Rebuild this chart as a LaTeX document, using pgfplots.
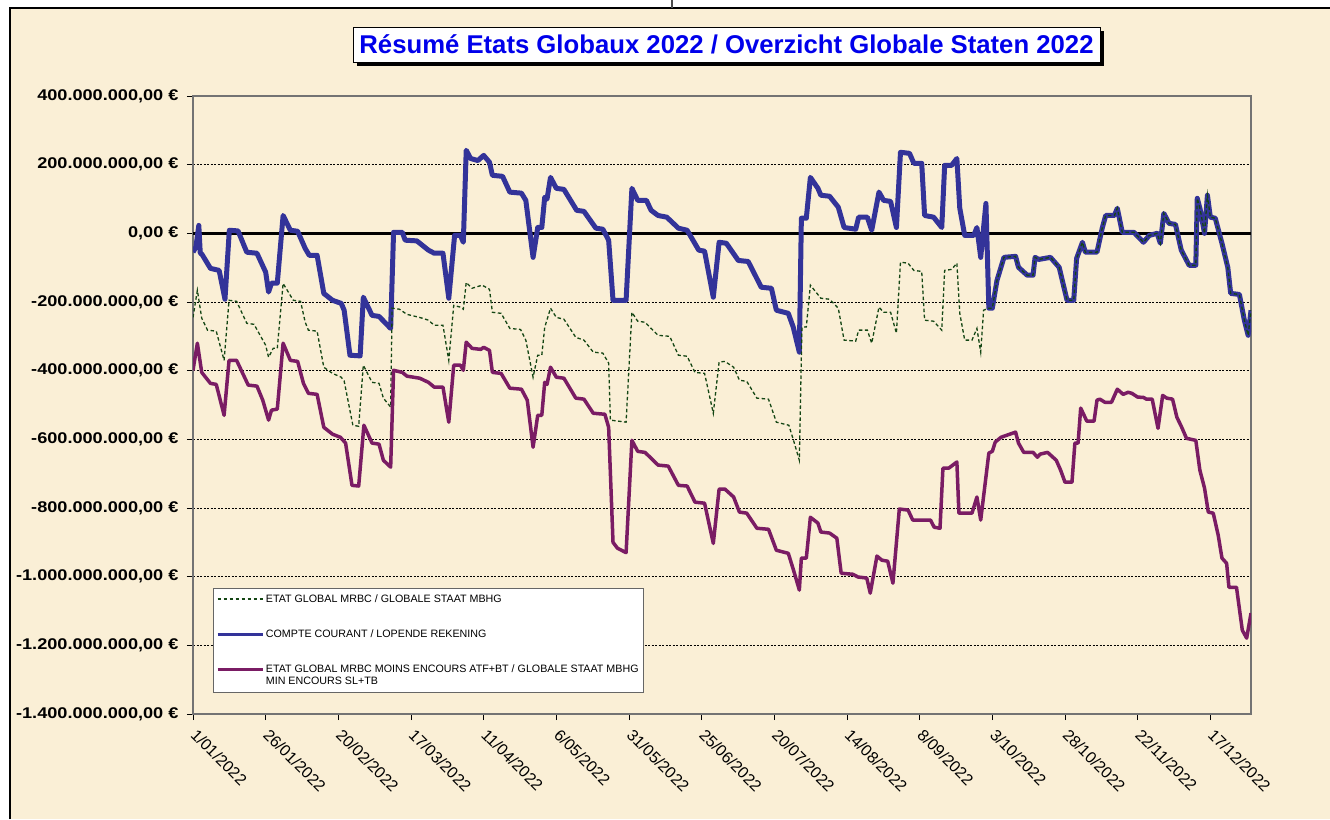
\documentclass[border=0pt]{standalone}
\usepackage{pgfplots}
\usepackage{pgfplotstable}
\pgfplotsset{compat=1.18}
\usepackage{fontspec}
\setmainfont{Liberation Sans}
\newfontfamily\ytf[FakeStretch=1.17]{Liberation Sans}
\definecolor{bg}{RGB}{250,239,214}
\definecolor{cblue}{RGB}{51,51,153}
\definecolor{cplum}{RGB}{122,28,100}
\definecolor{cgreen}{RGB}{20,70,20}
\definecolor{ctitle}{RGB}{0,0,235}

\pgfplotstableread{
d v
0 -55
1 -40
2 23
2.5 -58
3 -60
6 -102
9 -108
11 -192
12.5 9
15.5 7
18.5 -55
22 -58
25 -113
26 -171
27 -145
29 -145
31 52
33.5 9
36 6
38.6 -44
40 -64
42.7 -64
45 -175
48 -195
51 -204
52 -224
54 -355
57.5 -357
58.6 -186
61.6 -239
64 -242
68 -277
69 3
72 3
73 -20
77 -22
81 -49
83 -58
86 -58
88 -189
90 -6
92 -6
93 -26
94 242
95.5 218
98 212
100 227
102 207
103 169
106.5 166
109 120
113 117
114.5 96
117 -70
118.6 17
120 17
121 105
121.8 100
123 163
125 131
127.6 128
132 67
134.5 64
138.6 15
141 12
143 -20
144.5 -195
149 -195
151 131
153 96
156 96
157.6 67
160 52
163 47
167 15
170 9
174 -49
176 -52
179 -186
181 -26
183.5 -29
187.6 -79
191 -82
195.5 -157
199 -160
200.7 -224
204.8 -233
206.5 -273
208.6 -346
209.3 44
211 44
212.4 163
215 131
216 111
219 108
222 76
224 17
228 12
229 47
232 47
233.5 9
236 120
237.6 96
240 93
242 17
243.4 236
246.5 233
248 204
250.7 204
251.7 52
254.8 47
257.6 17
258.6 198
261 198
262.8 218
263.8 73
265.5 -6
268.6 -6
269.7 17
271 -70
272.8 87
273.8 -218
275 -218
276.6 -137
279 -70
283 -67
284 -99
287 -122
289 -122
289.7 -70
291 -76
293 -73
295 -70
298 -99
300.7 -195
303 -195
304 -73
306 -26
307 -55
311 -55
312.8 15
314 52
317 52
318 73
319.7 3
323.7 3
327 -26
329 -6
331.7 0
332.8 -29
334 58
335.8 29
338 26
340 -49
342.7 -93
345 -93
345.5 102
346.5 70
348 0
349 111
350 47
351.7 44
354 -29
356 -99
357 -175
360 -178
361.7 -253
363 -297
364 -224
}\bluetab

\pgfplotstableread{
d v
0 -245
1.5 -166
3 -247
5 -282
8 -285
10.7 -370
12.4 -195
15 -198
18.5 -262
21 -265
25 -326
26 -361
27.6 -335
29 -335
31 -146
34.5 -195
37 -198
38.6 -259
39.7 -282
42.7 -285
45 -390
48 -408
51 -419
52 -430
55 -559
57 -562
58.6 -384
61.6 -434
64 -437
65.5 -480
68 -506
68.5 -218
71 -221
73.6 -236
78 -245
81 -253
83 -268
86 -268
88 -370
89.7 -210
92 -215
93 -221
94 -143
96 -160
99.5 -151
102 -163
103 -230
106 -233
109 -277
112.7 -280
114.5 -311
117 -419
118.6 -355
120 -355
121 -274
123 -218
125 -245
127.6 -250
131.7 -303
134.5 -311
137.7 -346
141 -349
143 -378
143.6 -544
149 -550
151 -230
153 -256
155.5 -259
157.6 -277
160 -297
164 -300
167 -355
170 -358
172.7 -405
176 -408
179 -524
181 -375
183 -373
186 -390
188 -428
190.5 -431
194 -480
198 -483
200.7 -550
205 -559
206.6 -603
208.6 -661
209.5 -273
211 -273
212.4 -151
216 -189
219 -192
222 -218
224 -311
228 -314
229 -282
232 -282
233.5 -320
236 -215
237.6 -230
240 -230
242 -291
243.4 -84
246 -87
248 -108
250.7 -111
251.7 -253
254.8 -256
257.6 -282
258.6 -108
261 -105
262.8 -87
263.8 -233
265.5 -311
268 -311
269.7 -277
271 -346
272 -224
273.8 -218
275 -218
276.6 -137
279 -70
283 -67
284 -99
287 -122
289 -122
289.7 -70
291 -76
293 -73
295 -70
298 -99
300.7 -195
303 -195
304 -73
306 -26
307 -55
311 -55
312.8 15
314 52
317 52
318 73
319.7 3
323.7 3
327 -26
329 -6
331.7 0
332.8 -29
334 58
335.8 29
338 26
340 -49
342.7 -93
345 -93
345.5 102
346.5 70
348 0
349 111
350 47
351.7 44
354 -29
356 -99
357 -175
360 -178
361.7 -253
363 -297
364 -224
}\greentab

\pgfplotstableread{
d v
0 -399
1.5 -320
3 -405
6 -437
8 -440
10.7 -530
12.4 -370
15 -370
19 -442
22 -445
24 -486
26 -544
27 -515
29 -512
31 -320
33.5 -370
36 -373
38 -437
39.7 -466
42.7 -469
45 -565
48 -585
50.7 -594
52.5 -611
54.7 -734
57 -736
58.8 -559
61.6 -611
64 -614
65.5 -661
68 -681
69 -399
72 -405
73.6 -416
78 -422
81 -434
83 -448
86 -448
88 -550
89.7 -384
92 -384
93 -399
94 -317
96 -335
99 -338
100 -332
102 -341
103 -405
106 -408
109 -451
113 -454
115 -486
117 -623
118.6 -530
120 -530
121 -434
121.8 -440
123 -390
125 -419
127.6 -422
131.7 -480
134.5 -483
137.7 -524
141.7 -527
143 -565
144.5 -900
146 -917
149 -930
151 -603
153 -635
155.5 -638
157.6 -655
160 -675
163.5 -678
167 -734
170 -736
172.7 -783
176 -786
179 -903
181 -745
183 -745
186 -768
188 -812
190.5 -815
194 -859
198 -862
200.7 -923
204.8 -932
206.6 -981
208.6 -1039
209.3 -946
211 -946
212.4 -827
215 -844
216 -870
219 -873
221.5 -888
223 -990
227 -993
228.8 -1001
231.8 -1004
233 -1048
235.3 -940
237 -952
239 -955
240.8 -1019
243 -803
246 -806
247.6 -835
253.7 -835
255 -856
257 -859
258 -684
260 -684
262.8 -666
263.5 -815
268 -815
269.7 -768
271 -835
273.8 -640
275 -635
276 -608
278 -594
283 -579
284 -611
285.8 -638
289 -638
290.5 -652
291.5 -643
294 -638
297 -661
298.5 -690
300 -725
302.4 -725
303.4 -611
304.5 -611
305.4 -509
307.5 -547
310 -547
311 -486
312 -483
313.7 -492
316 -492
318 -454
320 -469
321.7 -463
323 -466
325 -477
327 -478
328 -483
330 -483
332 -568
333.6 -472
335 -480
337 -483
338.5 -536
340 -562
341.8 -597
345 -603
346.4 -690
348 -742
349.3 -812
351 -815
352.7 -879
354 -946
355.6 -961
356.4 -1031
359 -1031
361 -1156
362.5 -1179
364 -1106
}\plumtab

\begin{document}
\begin{tikzpicture}[x=1pt,y=1pt]
\useasboundingbox (0,0) rectangle (1330,819);
\fill[white] (0,0) rectangle (1330,819);
\fill[bg] (10,0) rectangle (1330,811);
\draw[black, line width=1.5pt] (10,0) -- (10,811) -- (1330,811);
\draw[black!70, line width=1.2pt] (672,811) -- (672,819);
% title box with shadow
\fill[black] (357,753) rectangle (1104,788);
\fill[white] (353,757) rectangle (1100,792);
\draw[black, line width=0.8pt] (353,757) rectangle (1100,792);
\node[text=ctitle, font=\fontsize{25.7}{30}\selectfont\bfseries] at (726.5,774.5) {Résumé Etats Globaux 2022 / Overzicht Globale Staten 2022};
\begin{axis}[
  at={(193pt,105pt)}, anchor=south west,
  scale only axis, width=1058pt, height=618pt,
  xmin=0, xmax=364, ymin=-1400, ymax=400,
  ytick={-1400,-1200,...,400},
  yticklabels={{-1.400.000.000,00 €},{-1.200.000.000,00 €},{-1.000.000.000,00 €},{-800.000.000,00 €},{-600.000.000,00 €},{-400.000.000,00 €},{-200.000.000,00 €},{0,00 €},{200.000.000,00 €},{400.000.000,00 €}},
  xtick={0,25,...,350},
  xticklabels={1/01/2022,26/01/2022,20/02/2022,17/03/2022,11/04/2022,6/05/2022,31/05/2022,25/06/2022,20/07/2022,14/08/2022,8/09/2022,3/10/2022,28/10/2022,22/11/2022,17/12/2022},
  xtick pos=bottom, ytick pos=left,
  tick align=outside, major tick length=6pt,
  tick style={black, line width=0.8pt},
  ymajorgrids,
  grid style={black, line width=0.6pt, dash pattern=on 2pt off 1.5pt},
  axis line style={draw=black!55, line width=1.2pt},
  yticklabel style={font=\ytf\bfseries\fontsize{15.5}{18}\selectfont, anchor=east, xshift=-5pt},
  xticklabel style={font=\fontsize{16}{18}\selectfont, rotate=-45, anchor=north west, xshift=5.5pt, yshift=1.5pt},
  legend style={at={(0.0189,0.2039)}, anchor=north west, draw=black!60, line width=0.8pt, fill=white,
    font=\fontsize{10.7}{12}\selectfont, inner xsep=3pt, inner ysep=4pt, row sep=22pt,
    cells={anchor=west, align=left}},
  legend image code/.code={\draw[#1] (0pt,0pt) -- (45pt,0pt);},
  legend cell align=left,
]
\addlegendimage{draw=cgreen, line width=1.3pt, dash pattern=on 3.5pt off 2.5pt}
\addlegendentry{ETAT GLOBAL MRBC / GLOBALE STAAT MBHG}
\addlegendimage{draw=cblue, line width=2.5pt}
\addlegendentry{COMPTE COURANT / LOPENDE REKENING}
\addlegendimage{draw=cplum, line width=2.5pt, yshift=6pt}
\addlegendentry{ETAT GLOBAL MRBC MOINS ENCOURS ATF+BT / GLOBALE STAAT MBHG\\MIN ENCOURS SL+TB}
\addplot[black, line width=3pt, forget plot] coordinates {(0,0) (364,0)};
\addplot[cblue, line width=5pt, line join=round, forget plot] table[x=d, y=v] {\bluetab};
\addplot[cgreen, line width=1.3pt, dash pattern=on 3.5pt off 2.5pt, forget plot] table[x=d, y=v] {\greentab};
\addplot[cplum, line width=3.5pt, line join=round, forget plot] table[x=d, y=v] {\plumtab};
\end{axis}
\end{tikzpicture}
\end{document}
